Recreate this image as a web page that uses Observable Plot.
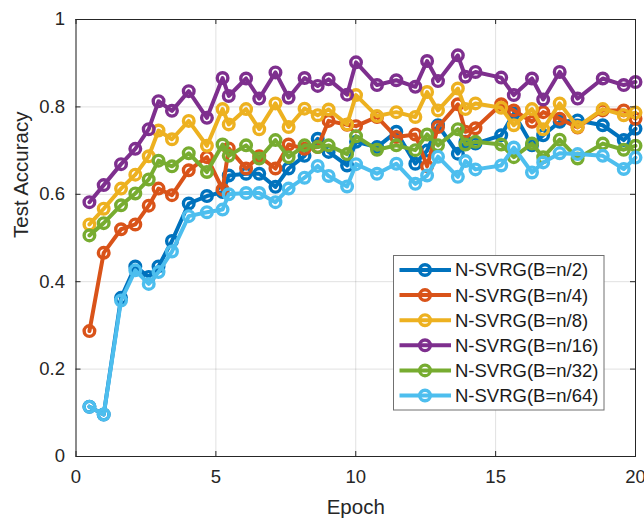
<!DOCTYPE html>
<html><head><meta charset="utf-8">
<script src="https://cdn.jsdelivr.net/npm/d3@7"></script>
<script src="https://cdn.jsdelivr.net/npm/@observablehq/plot@0.6"></script>
<style>
body{margin:0;background:#fff;}
#chart{position:relative;width:644px;height:519px;}
</style>
</head><body><div id="chart"></div>
<script>
const epochs = [0.48, 0.99, 1.61, 2.12, 2.60, 2.95, 3.43, 4.03, 4.68, 5.24, 5.46, 6.08, 6.55, 7.13, 7.60, 8.17, 8.64, 9.03, 9.69, 10.01, 10.76, 11.45, 12.13, 12.55, 12.94, 13.65, 13.92, 14.28, 15.20, 15.65, 16.30, 16.70, 17.29, 17.93, 18.83, 19.58, 20.0];
const seriesNames = ["N-SVRG(B=n/2)", "N-SVRG(B=n/4)", "N-SVRG(B=n/8)", "N-SVRG(B=n/16)", "N-SVRG(B=n/32)", "N-SVRG(B=n/64)"];
const seriesColors = ["#0072BD", "#D95319", "#EDB120", "#7E2F8E", "#77AC30", "#4DBEEE"];
const accN2 = [0.114, 0.096, 0.363, 0.435, 0.411, 0.435, 0.493, 0.579, 0.596, 0.605, 0.643, 0.647, 0.647, 0.617, 0.659, 0.688, 0.727, 0.697, 0.666, 0.720, 0.708, 0.743, 0.670, 0.700, 0.758, 0.693, 0.720, 0.716, 0.735, 0.785, 0.712, 0.735, 0.766, 0.769, 0.758, 0.724, 0.750];
const accN4 = [0.287, 0.466, 0.520, 0.531, 0.574, 0.613, 0.598, 0.655, 0.685, 0.611, 0.705, 0.659, 0.687, 0.659, 0.714, 0.704, 0.708, 0.768, 0.759, 0.756, 0.777, 0.731, 0.737, 0.664, 0.754, 0.806, 0.743, 0.751, 0.806, 0.792, 0.766, 0.788, 0.773, 0.753, 0.792, 0.792, 0.773];
const accN8 = [0.531, 0.567, 0.613, 0.645, 0.687, 0.746, 0.726, 0.768, 0.711, 0.795, 0.760, 0.795, 0.749, 0.808, 0.754, 0.796, 0.781, 0.794, 0.760, 0.827, 0.779, 0.788, 0.777, 0.834, 0.792, 0.842, 0.795, 0.808, 0.798, 0.758, 0.795, 0.749, 0.808, 0.754, 0.795, 0.781, 0.787];
const accN16 = [0.582, 0.621, 0.669, 0.704, 0.749, 0.813, 0.791, 0.836, 0.775, 0.866, 0.825, 0.865, 0.819, 0.879, 0.821, 0.866, 0.848, 0.863, 0.828, 0.902, 0.850, 0.861, 0.846, 0.905, 0.859, 0.918, 0.869, 0.880, 0.867, 0.827, 0.865, 0.817, 0.880, 0.819, 0.865, 0.850, 0.857];
const accN32 = [0.506, 0.534, 0.575, 0.602, 0.634, 0.677, 0.664, 0.694, 0.651, 0.714, 0.688, 0.712, 0.682, 0.724, 0.685, 0.712, 0.708, 0.712, 0.692, 0.733, 0.702, 0.712, 0.701, 0.737, 0.712, 0.749, 0.714, 0.720, 0.714, 0.685, 0.716, 0.685, 0.725, 0.682, 0.716, 0.702, 0.711];
const accN64 = [0.114, 0.096, 0.357, 0.426, 0.395, 0.422, 0.469, 0.550, 0.559, 0.565, 0.600, 0.603, 0.603, 0.582, 0.613, 0.638, 0.665, 0.642, 0.618, 0.669, 0.647, 0.670, 0.624, 0.643, 0.686, 0.640, 0.676, 0.657, 0.666, 0.707, 0.650, 0.673, 0.694, 0.692, 0.688, 0.658, 0.684];
const xTicks = [0, 5, 10, 15, 20];
const xTickLabels = ["0", "5", "10", "15", "20"];
const yTicks = [0, 0.2, 0.4, 0.6, 0.8, 1];
const yTickLabels = ["0", "0.2", "0.4", "0.6", "0.8", "1"];
const xLabel = "Epoch";
const yLabel = "Test Accuracy";

const W = 644, H = 519;
const mL = 75.5, mR = 9, mT = 19, mB = 63;
const plotW = W - mL - mR, plotH = H - mT - mB;
const axisColor = "#262626";
const font = "'Liberation Sans', Arial, Helvetica, sans-serif";

const allSeries = [accN2, accN4, accN8, accN16, accN32, accN64];
const rows = allSeries.flatMap((vals, s) => vals.map((v, i) => ({epoch: epochs[i], acc: v, series: seriesNames[s]})));

const seriesMarks = seriesNames.flatMap(name => {
  const d = rows.filter(r => r.series === name);
  return [
    Plot.line(d, {x: "epoch", y: "acc", stroke: "series", strokeWidth: 4, strokeLinejoin: "round"}),
    Plot.dot(d, {x: "epoch", y: "acc", stroke: "series", r: 5.3, strokeWidth: 3.4, fill: "none"})
  ];
});

const chart = Plot.plot({
  width: W, height: H,
  marginLeft: mL, marginRight: mR, marginTop: mT, marginBottom: mB,
  style: {fontFamily: font, fontSize: "18.5px", color: axisColor, background: "white", overflow: "visible"},
  x: {domain: [0, 20]},
  y: {domain: [0, 1]},
  color: {domain: seriesNames, range: seriesColors},
  marks: [
    Plot.gridX(xTicks, {stroke: "#000", strokeOpacity: 0.12, strokeWidth: 1}),
    Plot.gridY(yTicks, {stroke: "#000", strokeOpacity: 0.12, strokeWidth: 1}),
    ...seriesMarks,
    Plot.frame({stroke: axisColor, strokeWidth: 1}),
    Plot.tickX(xTicks, {x: d => d, insetTop: plotH - 5, stroke: axisColor}),
    Plot.tickX(xTicks, {x: d => d, insetBottom: plotH - 5, stroke: axisColor}),
    Plot.tickY(yTicks, {y: d => d, insetRight: plotW - 5, stroke: axisColor}),
    Plot.tickY(yTicks, {y: d => d, insetLeft: plotW - 5, stroke: axisColor}),
    Plot.axisX({ticks: xTicks, tickSize: 0, tickPadding: 13, label: null, tickFormat: d => xTickLabels[xTicks.indexOf(d)], fill: axisColor}),
    Plot.axisY({ticks: yTicks, tickSize: 0, tickPadding: 11, label: null, tickFormat: d => yTickLabels[yTicks.indexOf(d)], fill: axisColor}),
    Plot.text([xLabel], {text: d => d, frameAnchor: "bottom", dy: 57, fontSize: 20.5, fill: axisColor}),
    Plot.text([yLabel], {text: d => d, frameAnchor: "left", rotate: -90, dx: -55, fontSize: 20.5, fill: axisColor})
  ]
});

document.getElementById("chart").appendChild(chart);

// Legend
const svg = d3.select(chart);
const lg = svg.append("g").attr("font-family", font).attr("font-size", "18.5px").attr("text-anchor", "start");
lg.append("rect").attr("x", 393.5).attr("y", 255.5).attr("width", 210.5).attr("height", 154.5)
  .attr("fill", "white").attr("stroke", "#707070").attr("stroke-width", 1);
seriesNames.forEach((name, i) => {
  const y = 270 + i * 25.1;
  const g = lg.append("g");
  g.append("line").attr("x1", 399.5).attr("x2", 451).attr("y1", y).attr("y2", y)
    .attr("stroke", seriesColors[i]).attr("stroke-width", 4);
  g.append("circle").attr("cx", 425).attr("cy", y).attr("r", 5.3)
    .attr("fill", "none").attr("stroke", seriesColors[i]).attr("stroke-width", 3.4);
  g.append("text").attr("x", 455).attr("y", y).attr("dy", "0.35em").attr("text-anchor", "start")
    .attr("fill", "#1a1a1a").text(name);
});
</script>
</body></html>
